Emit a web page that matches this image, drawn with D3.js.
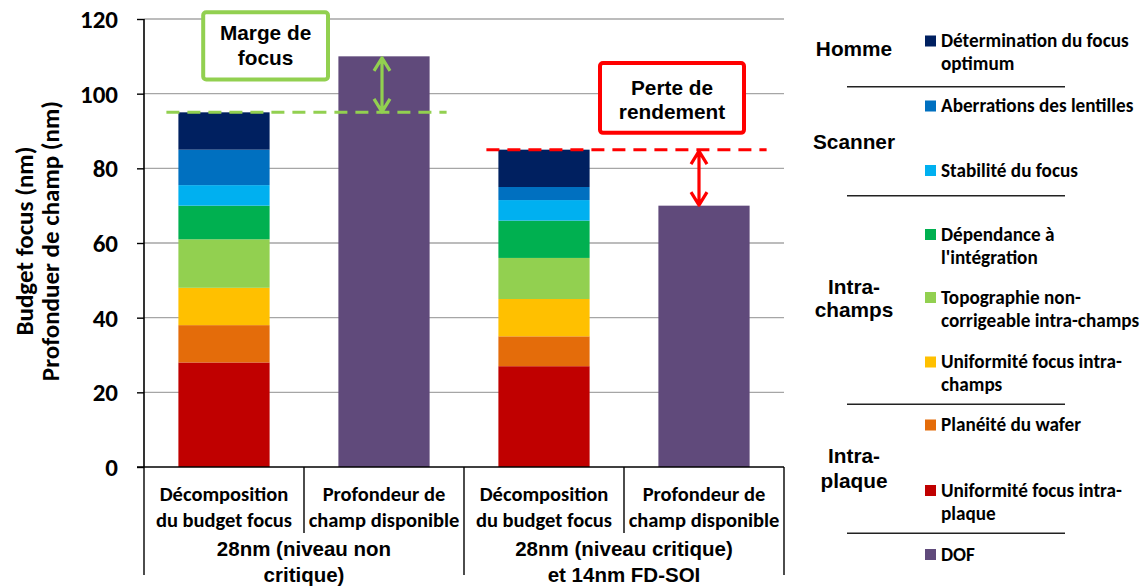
<!DOCTYPE html>
<html>
<head>
<meta charset="utf-8">
<script src="https://cdn.jsdelivr.net/npm/d3@7/dist/d3.min.js"></script>
<style>
  html, body { margin: 0; padding: 0; background: #fff; }
  svg { display: block; }
</style>
</head>
<body>
<svg id="chart" width="1147" height="588"></svg>
<script>
// ---------------- DATA ----------------
const categories = [
  ["Décomposition", "du budget focus"],
  ["Profondeur de", "champ disponible"],
  ["Décomposition", "du budget focus"],
  ["Profondeur de", "champ disponible"]
];
const groups = [
  ["28nm (niveau non", "critique)"],
  ["28nm (niveau critique)", "et 14nm FD-SOI"]
];
// stacked series, bottom to top
const seriesNames = [
  "Uniformité focus intra-plaque",
  "Planéité du wafer",
  "Uniformité focus intra-champs",
  "Topographie non-corrigeable intra-champs",
  "Dépendance à l'intégration",
  "Stabilité du focus",
  "Aberrations des lentilles",
  "Détermination du focus optimum",
  "DOF"
];
const uniformiteIntraPlaque = [28, 0, 27, 0];
const planeiteWafer         = [10, 0, 8, 0];
const uniformiteIntraChamps = [10, 0, 10, 0];
const topographie           = [13, 0, 11, 0];
const dependanceIntegration = [9, 0, 10, 0];
const stabiliteFocus        = [5.5, 0, 5.5, 0];
const aberrations           = [9.5, 0, 3.5, 0];
const determinationFocus    = [10, 0, 10, 0];
const dof                   = [0, 110, 0, 70];
const seriesValues = [uniformiteIntraPlaque, planeiteWafer, uniformiteIntraChamps,
  topographie, dependanceIntegration, stabiliteFocus, aberrations, determinationFocus, dof];

const yTicks = [0, 20, 40, 60, 80, 100, 120];
const yTitle = ["Budget focus (nm)", "Profonduer de champ (nm)"];

// legend text (top to bottom), referring to series index
const legendItems = [
  { s: 7, lines: ["Détermination du focus", "optimum"] },
  { s: 6, lines: ["Aberrations des lentilles"] },
  { s: 5, lines: ["Stabilité du focus"] },
  { s: 4, lines: ["Dépendance à", "l'intégration"] },
  { s: 3, lines: ["Topographie non-", "corrigeable intra-champs"] },
  { s: 2, lines: ["Uniformité focus intra-", "champs"] },
  { s: 1, lines: ["Planéité du wafer"] },
  { s: 0, lines: ["Uniformité focus intra-", "plaque"] },
  { s: 8, lines: ["DOF"] }
];
const legendGroups = [["Homme"], ["Scanner"], ["Intra-", "champs"], ["Intra-", "plaque"]];

const annotations = [
  { text: ["Marge de", "focus"], ref: 0, target: 1 },
  { text: ["Perte de", "rendement"], ref: 2, target: 3 }
];

// ---------------- STYLE / LAYOUT ----------------
const colors = ["#C00000", "#E46C0A", "#FFC000", "#92D050", "#00B050", "#00B0F0", "#0070C0", "#002060", "#604A7B"];
const annotColors = ["#92D050", "#FF0000"];
const CAL = "Carlito, Lato, 'Open Sans', sans-serif";
const ARI = "'Liberation Sans', Arial, sans-serif";

const plot = { left: 144, right: 784, top: 19, bottom: 467 };
// legend layout
const legendRowBaselines = [47, 112, 176.5, 240.5, 303.5, 368, 431, 496.5, 560.5];
const legendGroupBaselines = [[56], [149], [294, 317], [463, 488]];
const legendSepY = [86.7, 195.7, 404.3, 533.3];
// annotation boxes layout in (category index, value) units
const annotBoxes = [
  { x0: 0.37, x1: 1.15, v0: 121.8, v1: 103.8, lines: [39.5, 65] },
  { x0: 2.85, x1: 3.75, v0: 108.2, v1: 89.5, lines: [94.5, 118.5] }
];

// ---------------- CHART ----------------
const svg = d3.select("#chart");

const x = d3.scaleBand().domain(d3.range(categories.length))
  .range([plot.left, plot.right]).paddingInner(0.43).paddingOuter(0.215);
const xi = d3.scaleLinear().domain([0, categories.length]).range([plot.left, plot.right]);
const y = d3.scaleLinear().domain([0, 120]).range([plot.bottom, plot.top]);

// gridlines
svg.append("g").selectAll("line").data(yTicks.filter(d => d > 0)).join("line")
  .attr("x1", plot.left).attr("x2", plot.right)
  .attr("y1", d => y(d)).attr("y2", d => y(d))
  .attr("stroke", "#A6A6A6").attr("stroke-width", 1.4);

// stacked bars
const table = d3.range(categories.length).map(i => {
  const o = { i };
  seriesValues.forEach((arr, k) => o[k] = arr[i]);
  return o;
});
const stack = d3.stack().keys(d3.range(seriesValues.length))(table);
svg.append("g").selectAll("g").data(stack).join("g")
  .attr("fill", (d, k) => colors[k])
  .selectAll("rect").data(d => d.filter(p => p[1] > p[0])).join("rect")
  .attr("x", d => x(d.data.i))
  .attr("width", x.bandwidth())
  .attr("y", d => y(d[1]))
  .attr("height", d => y(d[0]) - y(d[1]));

// y axis
const yAxis = d3.axisLeft(y).tickValues(yTicks).tickSize(7).tickPadding(19);
const ga = svg.append("g").attr("transform", `translate(${plot.left},0)`).call(yAxis);
ga.select(".domain").remove();
ga.selectAll(".tick line").attr("stroke", "#000").attr("stroke-width", 1.4);
ga.selectAll(".tick text").attr("font-family", CAL).attr("font-weight", "bold")
  .attr("font-size", 25).attr("fill", "#000").attr("dy", "0.34em");
svg.append("line").attr("x1", plot.left).attr("x2", plot.left)
  .attr("y1", plot.top).attr("y2", plot.bottom)
  .attr("stroke", "#000").attr("stroke-width", 1.6);

// y title
const yt = svg.append("text")
  .attr("transform", `translate(25,${(plot.top + plot.bottom) / 2 - 2}) rotate(-90)`)
  .attr("text-anchor", "middle")
  .attr("font-family", CAL).attr("font-weight", "bold").attr("font-size", 25);
yTitle.forEach((t, i) => yt.append("tspan").attr("x", 0).attr("y", i * 26 + 8).text(t));

// x axis line
svg.append("line").attr("x1", plot.left - 7).attr("x2", plot.right)
  .attr("y1", plot.bottom).attr("y2", plot.bottom)
  .attr("stroke", "#000").attr("stroke-width", 1.6);

// category separators
const seps = d3.range(categories.length + 1);
svg.append("g").selectAll("line").data(seps).join("line")
  .attr("x1", d => xi(d)).attr("x2", d => xi(d))
  .attr("y1", plot.bottom)
  .attr("y2", d => d % 2 === 0 ? 575 : 533)
  .attr("stroke", "#000").attr("stroke-width", 1.4);

// category labels
svg.append("g").selectAll("text").data(categories).join("text")
  .attr("text-anchor", "middle")
  .attr("font-family", CAL).attr("font-weight", "bold").attr("font-size", 20.5)
  .each(function (lines, i) {
    d3.select(this).selectAll("tspan").data(lines).join("tspan")
      .attr("x", xi(i + 0.5)).attr("y", (l, j) => 501 + j * 26).text(l => l);
  });

// group labels
svg.append("g").selectAll("text").data(groups).join("text")
  .attr("text-anchor", "middle")
  .attr("font-family", ARI).attr("font-weight", "bold").attr("font-size", 20.5)
  .each(function (lines, g) {
    d3.select(this).selectAll("tspan").data(lines).join("tspan")
      .attr("x", xi(g * 2 + 1)).attr("y", (l, j) => 556 + j * 26).text(l => l);
  });

// annotations: dashed reference lines, arrows, boxes
const totals = d3.range(categories.length).map(i => d3.sum(seriesValues, s => s[i]));
annotations.forEach((a, k) => {
  const col = annotColors[k];
  const yRef = y(totals[a.ref]);
  svg.append("line")
    .attr("x1", x(a.ref) - 12).attr("x2", x(a.target) + x.bandwidth() + 17)
    .attr("y1", yRef).attr("y2", yRef)
    .attr("stroke", col).attr("stroke-width", 3).attr("stroke-dasharray", "13,8");
  const ax = x(a.target) + x.bandwidth() / 2 - (k === 0 ? 2 : 5);
  const yTop = Math.min(yRef, y(totals[a.target])) + 1.5;
  const yBot = Math.max(yRef, y(totals[a.target])) - 0.5;
  svg.append("path")
    .attr("d", `M${ax},${yTop}L${ax},${yBot}` +
      `M${ax - 8},${yTop + 13}L${ax},${yTop}L${ax + 8},${yTop + 13}` +
      `M${ax - 8},${yBot - 13}L${ax},${yBot}L${ax + 8},${yBot - 13}`)
    .attr("fill", "none").attr("stroke", col).attr("stroke-width", 3.2)
    .attr("stroke-linejoin", "round");
  const b = annotBoxes[k];
  svg.append("rect")
    .attr("x", xi(b.x0)).attr("y", y(b.v0))
    .attr("width", xi(b.x1) - xi(b.x0)).attr("height", y(b.v1) - y(b.v0))
    .attr("rx", 3).attr("fill", "#fff").attr("stroke", col).attr("stroke-width", 4);
  const t = svg.append("text").attr("text-anchor", "middle")
    .attr("font-family", ARI).attr("font-weight", "bold").attr("font-size", 20.8);
  a.text.forEach((l, j) => t.append("tspan")
    .attr("x", (xi(b.x0) + xi(b.x1)) / 2).attr("y", b.lines[j]).text(l));
});

// ---------------- LEGEND ----------------
const lg = svg.append("g");
legendItems.forEach((it, r) => {
  const by = legendRowBaselines[r];
  lg.append("rect").attr("x", 925).attr("y", by - 11.5).attr("width", 11).attr("height", 11)
    .attr("fill", colors[it.s]);
  const t = lg.append("text").attr("font-family", CAL).attr("font-weight", "bold").attr("font-size", 19.2);
  it.lines.forEach((l, j) => t.append("tspan").attr("x", 941).attr("y", by + j * 23).text(l));
});
legendGroups.forEach((lines, g) => {
  const t = lg.append("text").attr("text-anchor", "middle")
    .attr("font-family", ARI).attr("font-weight", "bold").attr("font-size", 20.8);
  lines.forEach((l, j) => t.append("tspan").attr("x", 854).attr("y", legendGroupBaselines[g][j]).text(l));
});
lg.selectAll("line.sep").data(legendSepY).join("line")
  .attr("x1", 847).attr("x2", 1065).attr("y1", d => d).attr("y2", d => d)
  .attr("stroke", "#222").attr("stroke-width", 1.5);
</script>
</body>
</html>
